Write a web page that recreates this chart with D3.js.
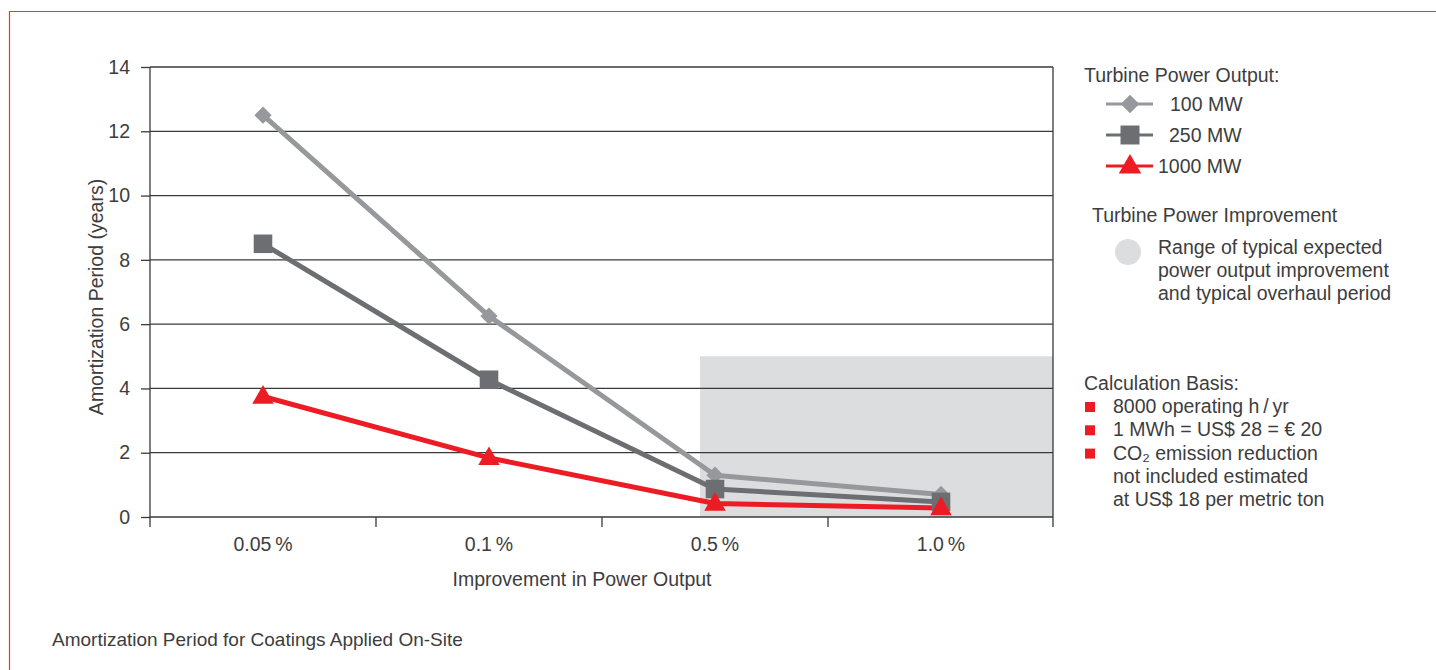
<!DOCTYPE html>
<html>
<head>
<meta charset="utf-8">
<script src="https://cdn.jsdelivr.net/npm/d3@7"></script>
<style>
  body { margin: 0; background: #fff; }
  svg { display: block; font-family: "Liberation Sans", Arial, sans-serif; }
  text { fill: #3d3d3d; }
</style>
</head>
<body>
<svg width="1436" height="670"></svg>
<script>
// Data

const categories = ["0.05\u2009%", "0.1\u2009%", "0.5\u2009%", "1.0\u2009%"];
const seriesNames = ["100 MW", "250 MW", "1000 MW"];
const values100 = [12.5, 6.25, 1.3, 0.7];
const values250 = [8.5, 4.27, 0.87, 0.47];
const values1000 = [3.75, 1.84, 0.42, 0.28];
const yTicks = [0, 2, 4, 6, 8, 10, 12, 14];
const rangeFrom = "0.5\u2009%";   // shaded range starts near this category
const rangeTop = 5;
const basisLines = [
    ["8000 operating h\u2009/\u2009yr"],
    ["1 MWh = US$ 28 = \u20ac 20"],
    ["CO\u2082 emission reduction", "not included estimated", "at US$ 18 per metric ton"]
];

const colors = ["#97989b", "#6d6e71", "#ed1c24"];
const symbols = [d3.symbolDiamond2, d3.symbolSquare, d3.symbolTriangle];
const markerSizes = [190, 345, 200];
const legendMarkerSizes = [220, 360, 220];
const fontSize = 19.5;

const svg = d3.select("svg");

// frame
svg.append("path")
    .attr("d", "M9.5,670 V11.5 H1436")
    .attr("fill", "none")
    .attr("stroke", "#e5323b")
    .attr("stroke-width", 1.2);

const margin = { left: 150, right: 1054, top: 67, bottom: 517 };

const x = d3.scaleBand()
    .domain(categories)
    .range([margin.left, margin.right]);
const cx = c => x(c) + x.bandwidth() / 2;

const y = d3.scaleLinear()
    .domain([0, 14])
    .range([margin.bottom, margin.top]);

// shaded range
const shadeLeft = cx(rangeFrom) - 15;
svg.append("rect")
    .attr("x", shadeLeft)
    .attr("y", y(rangeTop))
    .attr("width", margin.right - 1 - shadeLeft)
    .attr("height", y(0) - y(rangeTop))
    .attr("fill", "#dcdddf");

// grid + y axis
const yAxis = svg.append("g")
    .attr("transform", `translate(${margin.left},0)`)
    .call(d3.axisLeft(y).tickValues(yTicks).tickSize(9).tickPadding(11))
    .call(g => g.select(".domain").remove());
yAxis.selectAll(".tick line").attr("stroke", "#3a3a3a").attr("stroke-width", 1.3);
yAxis.selectAll(".tick text")
    .attr("font-size", fontSize)
    .attr("font-family", "Liberation Sans, Arial, sans-serif")
    .attr("fill", "#3d3d3d");

svg.append("g")
    .selectAll("line")
    .data(yTicks)
    .join("line")
    .attr("x1", margin.left)
    .attr("x2", margin.right - 1)
    .attr("y1", d => y(d))
    .attr("y2", d => y(d))
    .attr("stroke", "#3a3a3a")
    .attr("stroke-width", 1.3);

// vertical borders and x ticks
svg.append("g")
    .selectAll("line")
    .data([margin.left, margin.right - 1])
    .join("line")
    .attr("x1", d => d).attr("x2", d => d)
    .attr("y1", margin.top).attr("y2", margin.bottom + 10)
    .attr("stroke", "#3a3a3a").attr("stroke-width", 1.3);

svg.append("g")
    .selectAll("line")
    .data(categories.slice(1))
    .join("line")
    .attr("x1", d => x(d)).attr("x2", d => x(d))
    .attr("y1", margin.bottom).attr("y2", margin.bottom + 10)
    .attr("stroke", "#3a3a3a").attr("stroke-width", 1.3);

svg.append("g")
    .selectAll("text")
    .data(categories)
    .join("text")
    .attr("x", d => cx(d))
    .attr("y", margin.bottom + 34)
    .attr("text-anchor", "middle")
    .attr("font-size", fontSize)
    .text(d => d);

// axis titles
svg.append("text")
    .attr("transform", `translate(103,297) rotate(-90)`)
    .attr("text-anchor", "middle")
    .attr("font-size", fontSize)
    .text("Amortization Period (years)");

svg.append("text")
    .attr("x", 582)
    .attr("y", 586)
    .attr("text-anchor", "middle")
    .attr("font-size", fontSize)
    .text("Improvement in Power Output");

svg.append("text")
    .attr("x", 52)
    .attr("y", 646)
    .attr("font-size", 19)
    .text("Amortization Period for Coatings Applied On-Site");

// series
const series = [values100, values250, values1000];
const line = d3.line()
    .x((d, i) => cx(categories[i]))
    .y(d => y(d));

series.forEach((vals, s) => {
    svg.append("path")
        .datum(vals)
        .attr("d", line)
        .attr("fill", "none")
        .attr("stroke", colors[s])
        .attr("stroke-width", 5)
        .attr("stroke-linejoin", "round");
});

series.forEach((vals, s) => {
    svg.append("g")
        .selectAll("path")
        .data(vals)
        .join("path")
        .attr("transform", (d, i) => `translate(${cx(categories[i])},${y(d) + (s === 2 ? 1 : 0)})`)
        .attr("d", d3.symbol().type(symbols[s]).size(markerSizes[s]))
        .attr("fill", colors[s]);
});

// legend
const legend = svg.append("g").attr("font-size", fontSize);
legend.append("text").attr("x", 1084).attr("y", 82).text("Turbine Power Output:");

const legendRows = [104, 135, 166];
const legendTextX = [1170, 1169, 1158];
seriesNames.forEach((name, s) => {
    const g = legend.append("g").attr("transform", `translate(0,${legendRows[s]})`);
    g.append("line")
        .attr("x1", 1106).attr("x2", 1153)
        .attr("stroke", colors[s]).attr("stroke-width", 3);
    g.append("path")
        .attr("transform", `translate(1130,${s === 2 ? 1 : 0})`)
        .attr("d", d3.symbol().type(symbols[s]).size(legendMarkerSizes[s]))
        .attr("fill", colors[s]);
    g.append("text")
        .attr("x", legendTextX[s]).attr("y", 7)
        .text(name);
});

legend.append("text").attr("x", 1092).attr("y", 222).text("Turbine Power Improvement");
legend.append("circle").attr("cx", 1128).attr("cy", 252).attr("r", 13).attr("fill", "#dcdddf");
["Range of typical expected", "power output improvement", "and typical overhaul period"]
    .forEach((t, i) => legend.append("text").attr("x", 1158).attr("y", 254 + i * 23.2).text(t));

legend.append("text").attr("x", 1084).attr("y", 390).text("Calculation Basis:");
let row = 0;
basisLines.forEach(lines => {
    legend.append("rect")
        .attr("x", 1085).attr("y", 402 + row * 23.3)
        .attr("width", 10).attr("height", 10)
        .attr("fill", "#ed1c24");
    lines.forEach(t => {
        legend.append("text").attr("x", 1113).attr("y", 413 + row * 23.3).text(t);
        row++;
    });
});
</script>
</body>
</html>
